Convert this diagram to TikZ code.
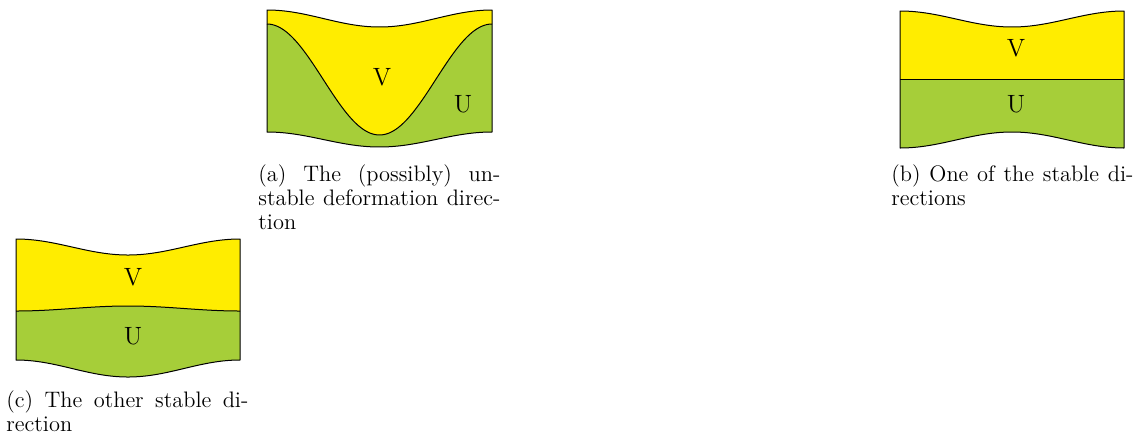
\documentclass[tikz,border=0pt]{standalone}
\usepackage{tikz}
\definecolor{vyel}{RGB}{255,237,0}
\definecolor{ugrn}{RGB}{166,206,57}
\tikzset{
  edge/.style={draw=black, line width=0.5pt, line join=round},
  lbl/.style={inner sep=0pt, font=\fontsize{12.5}{15}\selectfont},
  captxt/.style={inner sep=0pt, anchor=north west, text width=121pt, align=justify, font=\fontsize{11.2}{12}\selectfont},
}
\begin{document}
\begin{tikzpicture}[x=0.5pt, y=-0.5pt]
\useasboundingbox (0,0) rectangle (1133,434);
% ---------- panel (a) ----------
\fill[ugrn] plot[domain=267:492, samples=80] (\x,{10+17*(1-cos(((\x-267)/225)*360))/2})
  -- plot[domain=492:267, samples=80] (\x,{132+15*(1-cos(((\x-267)/225)*360))/2}) -- cycle;
\fill[vyel] plot[domain=267:492, samples=80] (\x,{10+17*(1-cos(((\x-267)/225)*360))/2})
  -- plot[domain=492:267, samples=80] (\x,{24+111*(1-cos(((\x-267)/225)*360))/2}) -- cycle;
\draw[edge] plot[domain=267:492, samples=80] (\x,{10+17*(1-cos(((\x-267)/225)*360))/2})
  -- plot[domain=492:267, samples=80] (\x,{132+15*(1-cos(((\x-267)/225)*360))/2}) -- cycle;
\draw[edge] plot[domain=267:492, samples=80] (\x,{24+111*(1-cos(((\x-267)/225)*360))/2});
\node[lbl] (va) at (382,77) {V};
\node[lbl] (ua) at (463,104) {U};
\node[captxt] (capa) at (258,164) {(a) The (possibly) un-\linebreak stable deformation direc-\linebreak tion};
% ---------- panel (b) ----------
\fill[vyel] plot[domain=900:1124, samples=80] (\x,{11+16*(1-cos(((\x-900)/224)*360))/2})
  -- (1124,79) -- (900,79) -- cycle;
\fill[ugrn] (900,79) -- (1124,79)
  -- plot[domain=1124:900, samples=80] (\x,{148-16*(1-cos(((\x-900)/224)*360))/2}) -- cycle;
\draw[edge] plot[domain=900:1124, samples=80] (\x,{11+16*(1-cos(((\x-900)/224)*360))/2})
  -- plot[domain=1124:900, samples=80] (\x,{148-16*(1-cos(((\x-900)/224)*360))/2}) -- cycle;
\draw[edge] (900,79) -- (1124,79);
\node[lbl] (vb) at (1016,48) {V};
\node[lbl] (ub) at (1016,104) {U};
\node[captxt] (capb) at (891,164) {(b) One of the stable di-\linebreak rections};
% ---------- panel (c) ----------
\fill[vyel] plot[domain=16:240, samples=80] (\x,{239+16*(1-cos(((\x-16)/224)*360))/2})
  -- plot[domain=240:16, samples=80] (\x,{311-5*(1-cos(((\x-16)/224)*360))/2}) -- cycle;
\fill[ugrn] plot[domain=16:240, samples=80] (\x,{311-5*(1-cos(((\x-16)/224)*360))/2})
  -- plot[domain=240:16, samples=80] (\x,{360+17*(1-cos(((\x-16)/224)*360))/2}) -- cycle;
\draw[edge] plot[domain=16:240, samples=80] (\x,{239+16*(1-cos(((\x-16)/224)*360))/2})
  -- plot[domain=240:16, samples=80] (\x,{360+17*(1-cos(((\x-16)/224)*360))/2}) -- cycle;
\draw[edge] plot[domain=16:240, samples=80] (\x,{311-5*(1-cos(((\x-16)/224)*360))/2});
\node[lbl] (vc) at (133,277) {V};
\node[lbl] (uc) at (133,336) {U};
\node[captxt] (capc) at (6,390) {(c) The other stable di-\linebreak rection};
\end{tikzpicture}
\end{document}
